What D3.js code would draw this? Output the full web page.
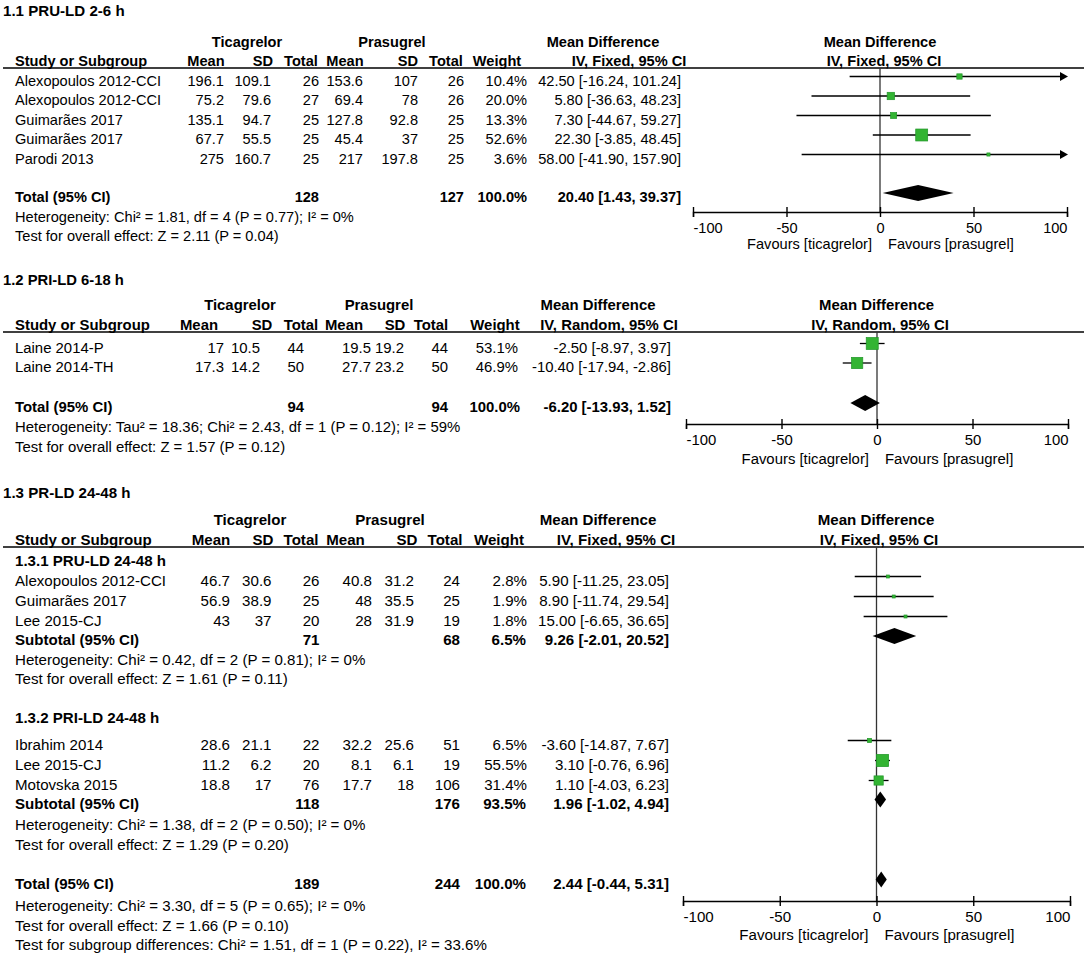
<!DOCTYPE html>
<html><head><meta charset="utf-8">
<script src="https://cdn.jsdelivr.net/npm/d3@7"></script>
<style>
body{margin:0;background:#fff}
text{font-family:"Liberation Sans",Arial,sans-serif;fill:#000}
</style>
</head><body><svg id="c" width="1084" height="953"></svg>
<script>
// ================= DATA =================
const colHeaders = ["Mean","SD","Total","Mean","SD","Total","Weight"];
const axisTicks = [-100,-50,0,50,100];
const favourLabels = ["Favours [ticagrelor]","Favours [prasugrel]"];

// ---- 1.1 PRU-LD 2-6 h ----
const s1Title = "1.1 PRU-LD 2-6 h";
const s1Method = "IV, Fixed, 95% CI";
const s1Study = ["Alexopoulos 2012-CCI","Alexopoulos 2012-CCI","Guimarães 2017","Guimarães 2017","Parodi 2013"];
const s1TicMean = [196.1,75.2,135.1,67.7,275];
const s1TicSD = [109.1,79.6,94.7,55.5,160.7];
const s1TicN = [26,27,25,25,25];
const s1PraMean = [153.6,69.4,127.8,45.4,217];
const s1PraSD = [107,78,92.8,37,197.8];
const s1PraN = [26,26,25,25,25];
const s1Weight = [10.4,20.0,13.3,52.6,3.6];
const s1MD = [42.50,5.80,7.30,22.30,58.00];
const s1Lo = [-16.24,-36.63,-44.67,-3.85,-41.90];
const s1Hi = [101.24,48.23,59.27,48.45,157.90];
const s1TotalN = [128,127];
const s1TotalW = 100.0;
const s1TotalMD = [20.40,1.43,39.37];
const s1Notes = ["Heterogeneity: Chi² = 1.81, df = 4 (P = 0.77); I² = 0%","Test for overall effect: Z = 2.11 (P = 0.04)"];

// ---- 1.2 PRI-LD 6-18 h ----
const s2Title = "1.2 PRI-LD 6-18 h";
const s2Method = "IV, Random, 95% CI";
const s2Study = ["Laine 2014-P","Laine 2014-TH"];
const s2TicMean = [17,17.3];
const s2TicSD = [10.5,14.2];
const s2TicN = [44,50];
const s2PraMean = [19.5,27.7];
const s2PraSD = [19.2,23.2];
const s2PraN = [44,50];
const s2Weight = [53.1,46.9];
const s2MD = [-2.50,-10.40];
const s2Lo = [-8.97,-17.94];
const s2Hi = [3.97,-2.86];
const s2TotalN = [94,94];
const s2TotalW = 100.0;
const s2TotalMD = [-6.20,-13.93,1.52];
const s2Notes = ["Heterogeneity: Tau² = 18.36; Chi² = 2.43, df = 1 (P = 0.12); I² = 59%","Test for overall effect: Z = 1.57 (P = 0.12)"];

// ---- 1.3 PR-LD 24-48 h ----
const s3Title = "1.3 PR-LD 24-48 h";
const s3Method = "IV, Fixed, 95% CI";
// subgroup 1.3.1
const s31Title = "1.3.1 PRU-LD 24-48 h";
const s31Study = ["Alexopoulos 2012-CCI","Guimarães 2017","Lee 2015-CJ"];
const s31TicMean = [46.7,56.9,43];
const s31TicSD = [30.6,38.9,37];
const s31TicN = [26,25,20];
const s31PraMean = [40.8,48,28];
const s31PraSD = [31.2,35.5,31.9];
const s31PraN = [24,25,19];
const s31Weight = [2.8,1.9,1.8];
const s31MD = [5.90,8.90,15.00];
const s31Lo = [-11.25,-11.74,-6.65];
const s31Hi = [23.05,29.54,36.65];
const s31SubN = [71,68];
const s31SubW = 6.5;
const s31SubMD = [9.26,-2.01,20.52];
const s31Notes = ["Heterogeneity: Chi² = 0.42, df = 2 (P = 0.81); I² = 0%","Test for overall effect: Z = 1.61 (P = 0.11)"];
// subgroup 1.3.2
const s32Title = "1.3.2 PRI-LD 24-48 h";
const s32Study = ["Ibrahim 2014","Lee 2015-CJ","Motovska 2015"];
const s32TicMean = [28.6,11.2,18.8];
const s32TicSD = [21.1,6.2,17];
const s32TicN = [22,20,76];
const s32PraMean = [32.2,8.1,17.7];
const s32PraSD = [25.6,6.1,18];
const s32PraN = [51,19,106];
const s32Weight = [6.5,55.5,31.4];
const s32MD = [-3.60,3.10,1.10];
const s32Lo = [-14.87,-0.76,-4.03];
const s32Hi = [7.67,6.96,6.23];
const s32SubN = [118,176];
const s32SubW = 93.5;
const s32SubMD = [1.96,-1.02,4.94];
const s32Notes = ["Heterogeneity: Chi² = 1.38, df = 2 (P = 0.50); I² = 0%","Test for overall effect: Z = 1.29 (P = 0.20)"];
// overall
const s3TotalN = [189,244];
const s3TotalW = 100.0;
const s3TotalMD = [2.44,-0.44,5.31];
const s3Notes = ["Heterogeneity: Chi² = 3.30, df = 5 (P = 0.65); I² = 0%","Test for overall effect: Z = 1.66 (P = 0.10)","Test for subgroup differences: Chi² = 1.51, df = 1 (P = 0.22), I² = 33.6%"];

// ================= DRAWING =================
const svg = d3.select("#c");
svg.append("rect").attr("width",1084).attr("height",953).attr("fill","#fff");
const f2 = v => v.toFixed(2);
const mdText = (m,l,h) => `${f2(m)} [${f2(l)}, ${f2(h)}]`;
const TXT_OFF = 9; // baseline offset below the row's mark centre
const GREEN = "#33b433", GREEN_D = "#22962a";
let FS = 14.6;

function txt(x,y,s,anchor,bold,fs){
  return svg.append("text").attr("x",x).attr("y",y)
    .attr("font-size",(fs||FS)+"px")
    .attr("text-anchor",anchor||"start")
    .attr("font-weight",bold?"bold":"normal").text(s);
}

function header(L, title, method){
  FS = L.fs;
  txt(3, L.titleY, title, "start", true, L.titleFs);
  txt(L.ticCenter, L.groupY, "Ticagrelor", "middle", true);
  txt(L.praCenter, L.groupY, "Prasugrel", "middle", true);
  txt(L.mdHead, L.groupY, "Mean Difference", "middle", true);
  txt(L.plotHead[0], L.groupY, "Mean Difference", "middle", true);
  txt(15, L.headY, "Study or Subgroup", "start", true);
  colHeaders.forEach((h,i)=>txt(L.headX[i], L.headY, h, "middle", true));
  txt(L.ivHead, L.headY, method, "middle", true);
  txt(L.plotHead[1], L.headY, method, "middle", true);
  svg.append("line").attr("x1",3).attr("x2",1084).attr("y1",L.lineY).attr("y2",L.lineY)
    .attr("stroke","#000").attr("stroke-width",1.4);
  const x = d3.scaleLinear().domain([axisTicks[0], axisTicks[axisTicks.length-1]]).range(L.xRange);
  // zero line
  svg.append("line").attr("x1",x(0)).attr("x2",x(0)).attr("y1",L.lineY).attr("y2",L.axisY)
    .attr("stroke","#333").attr("stroke-width",1.3);
  // axis
  const ax = svg.append("g").attr("transform",`translate(0,${L.axisY})`)
    .call(d3.axisBottom(x).tickValues(axisTicks).tickSizeOuter(0).tickSize(5).tickFormat(d=>String(d)));
  ax.attr("font-size",null).attr("font-family",null);
  ax.select(".domain").attr("stroke","#000").attr("stroke-width",1.4);
  ax.selectAll(".tick line").attr("y1",-5).attr("y2",5).attr("stroke","#000").attr("stroke-width",1.4);
  ax.selectAll(".tick text").attr("y",L.tickY-L.axisY).attr("dy",null)
    .attr("font-size",FS+"px").attr("fill","#000")
    .attr("text-anchor",(d,i)=> i===0 ? "start" : (i===axisTicks.length-1 ? "end" : "middle"));
  txt(x(0)-8, L.favY, favourLabels[0], "end", false);
  txt(x(0)+8, L.favY, favourLabels[1], "start", false);
  return x;
}

function studyRows(L, x, ys, st, tm, tsd, tn, pm, psd, pn, w, md, lo, hi){
  st.forEach((s,i)=>{
    const y = ys(i), ty = y + TXT_OFF;
    txt(15, ty, s);
    [tm[i], tsd[i], tn[i], pm[i], psd[i], pn[i]].forEach((v,j)=>txt(L.valX[j], ty, String(v), "end"));
    txt(L.valX[6], ty, w[i].toFixed(1)+"%", "end");
    txt(L.mdX, ty, mdText(md[i],lo[i],hi[i]), "end");
    const xmin = x.domain()[0], xmax = x.domain()[1];
    const a = x(Math.max(lo[i],xmin)), b = x(Math.min(hi[i],xmax));
    svg.append("line").attr("x1",a).attr("x2",hi[i]>xmax? b-5 : b).attr("y1",y).attr("y2",y)
      .attr("stroke","#000").attr("stroke-width",1.3);
    if (hi[i] > xmax) {
      svg.append("path").attr("d",d3.line()([[b-7,y-4.5],[b+1,y],[b-7,y+4.5]])+"Z").attr("fill","#000");
    }
    if (lo[i] < xmin) {
      svg.append("path").attr("d",d3.line()([[a+7,y-4.5],[a-1,y],[a+7,y+4.5]])+"Z").attr("fill","#000");
    }
    const side = Math.max(3, 1.65*Math.sqrt(w[i]));
    svg.append("rect").attr("x",x(md[i])-side/2).attr("y",y-side/2).attr("width",side).attr("height",side)
      .attr("fill",GREEN).attr("stroke",GREEN_D).attr("stroke-width",0.7);
  });
}

function totalRow(L, x, y, label, nArr, wt, mdArr){
  const ty = y + TXT_OFF;
  txt(15, ty, label, "start", true);
  txt(L.totX[0], ty, String(nArr[0]), "end", true);
  txt(L.totX[1], ty, String(nArr[1]), "end", true);
  txt(L.totX[2], ty, wt.toFixed(1)+"%", "end", true);
  txt(L.mdX, ty, mdText(mdArr[0],mdArr[1],mdArr[2]), "end", true);
  svg.append("path").attr("d", d3.line()([[x(mdArr[1]),y],[x(mdArr[0]),y-8],[x(mdArr[2]),y],[x(mdArr[0]),y+8]])+"Z")
    .attr("fill","#000");
}

function notes(ys, arr){ arr.forEach((s,i)=>txt(15, ys[i], s)); }

// ---------- Section 1 ----------
const L1 = {fs:14.6, titleFs:15.1, titleY:16, groupY:47, headY:66, lineY:68, ticCenter:247, praCenter:392,
  mdHead:603, ivHead:629, plotHead:[880,884],
  headX:[206,263,301,345,408,446,497], valX:[224,271,319,363,418,464,527], totX:[319,464,527],
  mdX:681, xRange:[693,1067], axisY:212, tickY:233, favY:249};
const x1 = header(L1, s1Title, s1Method);
const y1 = d3.scaleLinear().domain([0,1]).range([76.5, 96]);
studyRows(L1, x1, y1, s1Study, s1TicMean, s1TicSD, s1TicN, s1PraMean, s1PraSD, s1PraN, s1Weight, s1MD, s1Lo, s1Hi);
totalRow(L1, x1, 193, "Total (95% CI)", s1TotalN, s1TotalW, s1TotalMD);
notes([222,241], s1Notes);

// ---------- Section 2 ----------
const L2 = {fs:14.9, titleFs:14.8, titleY:285, groupY:310, headY:330, lineY:332, ticCenter:240, praCenter:379,
  mdHead:598, ivHead:609, plotHead:[876.5,880],
  headX:[199,262,301,344,395,431,495], valX:[224,260,304,371,404,448,518], totX:[304,448,520],
  mdX:671, xRange:[686,1068], axisY:424, tickY:445, favY:464};
const x2 = header(L2, s2Title, s2Method);
const y2 = d3.scaleLinear().domain([0,1]).range([343.5, 363]);
studyRows(L2, x2, y2, s2Study, s2TicMean, s2TicSD, s2TicN, s2PraMean, s2PraSD, s2PraN, s2Weight, s2MD, s2Lo, s2Hi);
totalRow(L2, x2, 403, "Total (95% CI)", s2TotalN, s2TotalW, s2TotalMD);
notes([432,452], s2Notes);

// ---------- Section 3 ----------
const L3 = {fs:15.1, titleFs:15.1, titleY:498, groupY:525, headY:545, lineY:547, ticCenter:250, praCenter:390,
  mdHead:598, ivHead:616, plotHead:[876,879],
  headX:[211,263,301,345.5,407,445,499], valX:[230,271.5,319.5,372,414,460,527], totX:[319.5,460,526],
  mdX:669, xRange:[683,1070], axisY:901, tickY:922, favY:940};
const x3 = header(L3, s3Title, s3Method);
txt(15, 566, s31Title, "start", true);
const y31 = d3.scaleLinear().domain([0,1]).range([576.5, 596.5]);
studyRows(L3, x3, y31, s31Study, s31TicMean, s31TicSD, s31TicN, s31PraMean, s31PraSD, s31PraN, s31Weight, s31MD, s31Lo, s31Hi);
totalRow(L3, x3, 636, "Subtotal (95% CI)", s31SubN, s31SubW, s31SubMD);
notes([665,684], s31Notes);
txt(15, 723, s32Title, "start", true);
const y32 = d3.scaleLinear().domain([0,1]).range([740.5, 760.5]);
studyRows(L3, x3, y32, s32Study, s32TicMean, s32TicSD, s32TicN, s32PraMean, s32PraSD, s32PraN, s32Weight, s32MD, s32Lo, s32Hi);
totalRow(L3, x3, 799.5, "Subtotal (95% CI)", s32SubN, s32SubW, s32SubMD);
notes([830,850], s32Notes);
totalRow(L3, x3, 879.5, "Total (95% CI)", s3TotalN, s3TotalW, s3TotalMD);
notes([911,930.5,949.5], s3Notes);
</script>
</body></html>
